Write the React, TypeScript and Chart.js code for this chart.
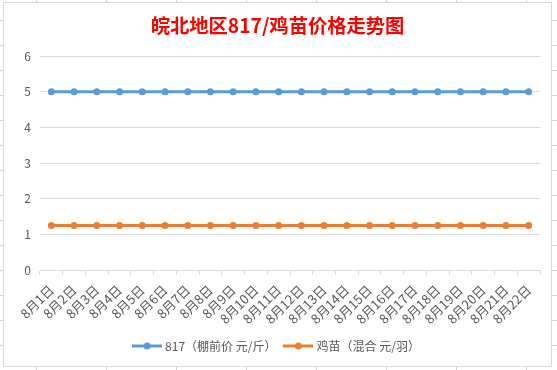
import React, { useEffect, useRef } from 'react';
import { Chart, registerables } from 'chart.js';

Chart.register(...registerables);

const titleText = '皖北地区817/鸡苗价格走势图';
const categories = [
  '8月1日', '8月2日', '8月3日', '8月4日', '8月5日', '8月6日', '8月7日', '8月8日',
  '8月9日', '8月10日', '8月11日', '8月12日', '8月13日', '8月14日', '8月15日',
  '8月16日', '8月17日', '8月18日', '8月19日', '8月20日', '8月21日', '8月22日',
];
const seriesNames = ['817（棚前价 元/斤）', '鸡苗（混合 元/羽）'];
const price817 = [5, 5, 5, 5, 5, 5, 5, 5, 5, 5, 5, 5, 5, 5, 5, 5, 5, 5, 5, 5, 5, 5];
const priceChick = [1.25, 1.25, 1.25, 1.25, 1.25, 1.25, 1.25, 1.25, 1.25, 1.25, 1.25, 1.25, 1.25, 1.25, 1.25, 1.25, 1.25, 1.25, 1.25, 1.25, 1.25, 1.25];
const yMin = 0;
const yMax = 6;
const yStep = 1;
const colors = ['#5B9BD5', '#ED7D31'];

const FONT = '"Noto Sans CJK SC", "Noto Sans", sans-serif';

function makeIcon(color: string): HTMLCanvasElement {
  const c = document.createElement('canvas');
  c.width = 30;
  c.height = 10;
  const ctx = c.getContext('2d')!;
  ctx.strokeStyle = color;
  ctx.lineWidth = 3;
  ctx.beginPath();
  ctx.moveTo(0, 5);
  ctx.lineTo(30, 5);
  ctx.stroke();
  ctx.fillStyle = color;
  ctx.beginPath();
  ctx.arc(15, 5, 3.5, 0, Math.PI * 2);
  ctx.fill();
  return c;
}

export default function App() {
  const ref = useRef<HTMLCanvasElement>(null);

  useEffect(() => {
    document.body.style.margin = '0';
    const icons = colors.map(makeIcon);
    const chart = new Chart(ref.current!, {
      type: 'line',
      data: {
        labels: categories,
        datasets: [
          {
            label: seriesNames[0],
            data: price817,
            borderColor: colors[0],
            backgroundColor: colors[0],
            borderWidth: 3,
            pointRadius: 3.5,
            pointBorderWidth: 0,
            pointBackgroundColor: colors[0],
          },
          {
            label: seriesNames[1],
            data: priceChick,
            borderColor: colors[1],
            backgroundColor: colors[1],
            borderWidth: 3,
            pointRadius: 3.5,
            pointBorderWidth: 0,
            pointBackgroundColor: colors[1],
          },
        ],
      },
      options: {
        responsive: false,
        animation: false,
        devicePixelRatio: 1,
        layout: { padding: { left: 0, right: 0, top: 0, bottom: 4 } },
        plugins: {
          title: {
            display: true,
            text: titleText,
            color: '#FF0000',
            font: { family: FONT, size: 19.3, weight: 'bold' },
            padding: { top: 11, bottom: 19 },
          },
          legend: {
            position: 'bottom',
            labels: {
              usePointStyle: true,
              pointStyleWidth: 24,
              color: '#595959',
              font: { family: FONT, size: 12 },
              padding: 10,
              generateLabels: (ch: any) => {
                const items = (Chart.defaults.plugins.legend.labels as any).generateLabels(ch);
                return items.map((it: any, i: number) => ({ ...it, pointStyle: icons[i] }));
              },
            },
          },
          tooltip: { enabled: false },
        },
        scales: {
          x: {
            offset: true,
            grid: {
              display: true,
              drawOnChartArea: false,
              offset: true,
              tickLength: 5,
              color: '#d9d9d9',
            },
            border: { color: '#d9d9d9' },
            ticks: {
              autoSkip: false,
              maxRotation: 45,
              minRotation: 45,
              color: '#595959',
              font: { family: FONT, size: 13 },
              padding: 7,
            },
            afterFit: (s: any) => {
              s.height = 60;
            },
          },
          y: {
            min: yMin,
            max: yMax,
            grid: { color: '#d9d9d9', drawTicks: false },
            border: { display: false },
            ticks: {
              stepSize: yStep,
              color: '#595959',
              font: { family: FONT, size: 12 },
              padding: 9,
            },
            afterFit: (s: any) => {
              s.width = 36;
            },
          },
          yRightSpace: {
            type: 'linear',
            position: 'right',
            display: true,
            grid: { display: false, drawTicks: false },
            border: { display: false },
            ticks: { display: false },
            afterFit: (s: any) => {
              s.width = 11;
            },
          },
        },
      },
    });
    return () => chart.destroy();
  }, []);

  return (
    <div
      style={{
        position: 'fixed',
        left: 0,
        top: 0,
        width: 557,
        height: 370,
        background: '#fff',
        backgroundImage:
          'linear-gradient(to right, #d4d4d4 1px, transparent 1px), linear-gradient(to bottom, #d4d4d4 1px, transparent 1px)',
        backgroundSize: '70px 25px',
        backgroundPosition: '36px 20px',
      }}
    >
      <div
        style={{
          position: 'absolute',
          left: 3,
          top: 2,
          width: 549,
          height: 365,
          border: '1px solid #d9d9d9',
          boxSizing: 'border-box',
          background: '#fff',
        }}
      >
        <canvas ref={ref} width={547} height={363} style={{ display: 'block', width: 547, height: 363 }} />
      </div>
    </div>
  );
}
